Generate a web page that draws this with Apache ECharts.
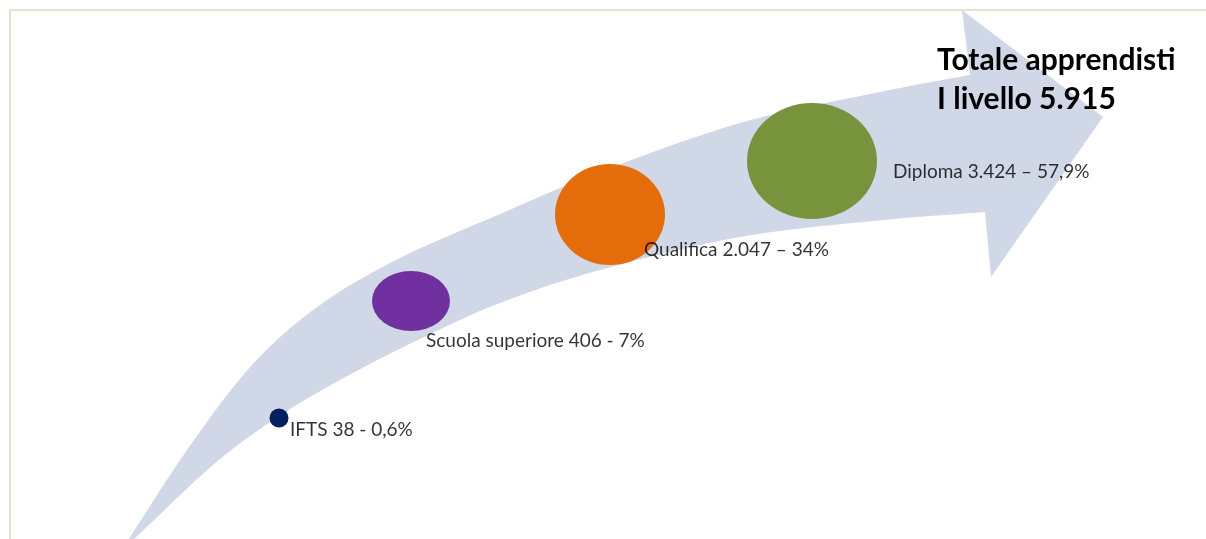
<!DOCTYPE html>
<html>
<head>
<meta charset="utf-8">
<title>Totale apprendisti I livello</title>
<script src="https://cdn.jsdelivr.net/npm/echarts@6/dist/echarts.min.js"></script>
<style>
  html, body { margin: 0; padding: 0; background: #fff; }
  #main { width: 1206px; height: 539px; }
</style>
</head>
<body>
<div id="main"></div>
<script>
// dati
var categorie = ['IFTS', 'Scuola superiore', 'Qualifica', 'Diploma'];
var apprendisti = [38, 406, 2047, 3424];
var quote = ['0,6%', '7%', '34%', '57,9%'];
var separatori = ['-', '-', '\u2013', '\u2013'];
var totale = 5915;

// posizione delle bolle lungo la freccia (coordinate del piano 0-1206 x 0-539)
var bollaX = [279, 411, 610, 812];
var bollaY = [418, 301, 214.5, 161];
var etichettaX = [290, 426, 644, 893];
var etichettaY = [430, 341, 250, 172];

// sagoma della freccia
var frecciaSopra = [[120, 553], [187, 450], [253, 364], [320, 305], [400, 258], [500, 214], [600, 172], [740, 123], [880, 92], [970, 75]];
var frecciaPunta = [[962, 10], [1103, 117], [991, 277]];
var frecciaSotto = [[985, 212], [873, 221], [740, 237], [600, 270], [500, 303], [420, 339], [353, 373], [287, 411], [220, 459], [153, 521], [120, 553]];

var colori = ['#002060', '#7030a0', '#e46c0a', '#77933c'];
var dimensioni = [[19, 19], [78, 60], [110, 101], [130, 116]];

function fmt(n) {
  return String(n).replace(/\B(?=(\d{3})+(?!\d))/g, '.');
}

// catmull-rom per i bordi curvi
function spline(pts, steps) {
  var out = [];
  var n = pts.length;
  for (var i = 0; i < n - 1; i++) {
    var p0 = pts[Math.max(i - 1, 0)], p1 = pts[i], p2 = pts[i + 1], p3 = pts[Math.min(i + 2, n - 1)];
    for (var s = 0; s < steps; s++) {
      var t = s / steps, t2 = t * t, t3 = t2 * t;
      out.push([0, 1].map(function (k) {
        return 0.5 * (2 * p1[k] + (-p0[k] + p2[k]) * t + (2 * p0[k] - 5 * p1[k] + 4 * p2[k] - p3[k]) * t2 + (-p0[k] + 3 * p1[k] - 3 * p2[k] + p3[k]) * t3);
      }));
    }
  }
  out.push(pts[n - 1]);
  return out;
}

var chart = echarts.init(document.getElementById('main'));

var bolle = [];
var etichette = [];
for (var i = 0; i < categorie.length; i++) {
  bolle.push({
    name: categorie[i],
    value: [bollaX[i], bollaY[i], apprendisti[i]],
    symbolSize: dimensioni[i],
    itemStyle: { color: colori[i], opacity: 1 }
  });
  etichette.push({
    name: categorie[i] + ' ' + fmt(apprendisti[i]) + ' ' + separatori[i] + ' ' + quote[i],
    value: [etichettaX[i], etichettaY[i]]
  });
}

var option = {
  animation: false,
  backgroundColor: '#fff',
  title: {
    text: 'Totale apprendisti\nI livello ' + fmt(totale),
    left: 937,
    top: 41,
    padding: 0,
    textStyle: {
      fontFamily: 'Lato',
      fontWeight: 'bold',
      fontSize: 30,
      lineHeight: 39,
      color: '#000'
    }
  },
  grid: { left: 0, right: 0, top: 0, bottom: 0 },
  xAxis: { type: 'value', min: 0, max: 1206, show: false },
  yAxis: { type: 'value', min: 0, max: 539, inverse: true, show: false },
  graphic: [{
    type: 'polyline',
    shape: { points: [[10, 539], [10, 10], [1206, 10]] },
    style: { stroke: '#e4e1cd', lineWidth: 2, fill: null },
    silent: true
  }],
  series: [
    {
      type: 'custom',
      silent: true,
      z: 1,
      data: [[0, 0]],
      renderItem: function (params, api) {
        var conv = function (p) { return api.coord(p); };
        var sopra = spline(frecciaSopra.map(conv), 16);
        var sotto = spline(frecciaSotto.map(conv), 16);
        var punti = sopra.concat(frecciaPunta.map(conv), sotto);
        return {
          type: 'polygon',
          shape: { points: punti },
          style: { fill: '#d0d8e8', stroke: null }
        };
      }
    },
    {
      type: 'scatter',
      z: 3,
      symbol: 'circle',
      data: bolle,
      silent: true
    },
    {
      type: 'scatter',
      z: 4,
      symbolSize: 0,
      data: etichette,
      silent: true,
      label: {
        show: true,
        position: 'right',
        distance: 0,
        formatter: '{b}',
        fontFamily: 'Lato',
        fontSize: 19,
        color: '#000'
      }
    }
  ]
};

chart.setOption(option);
</script>
</body>
</html>
